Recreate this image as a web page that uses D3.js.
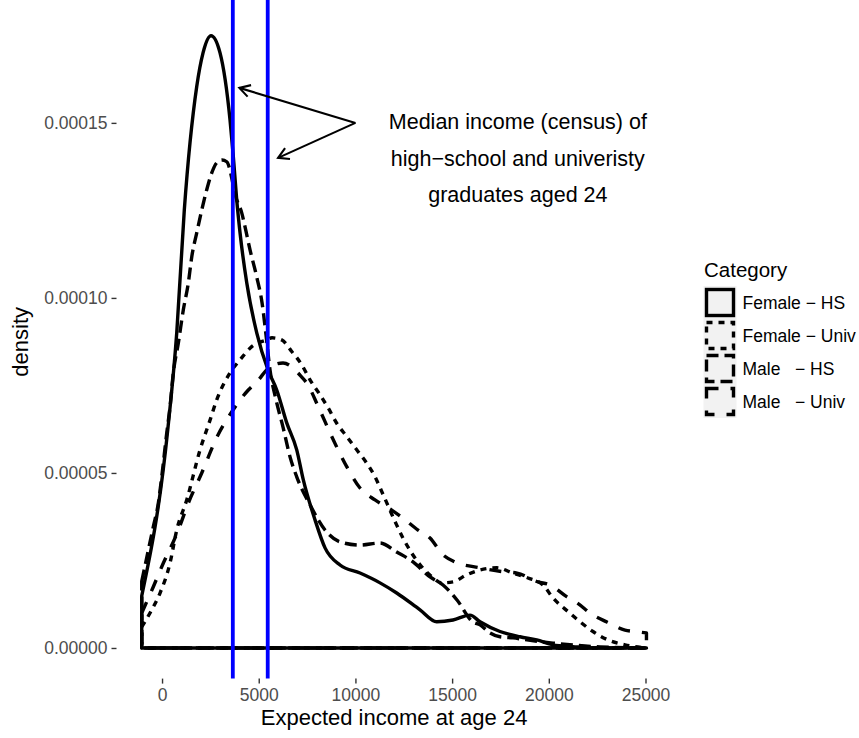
<!DOCTYPE html>
<html>
<head>
<meta charset="utf-8">
<script src="https://cdn.jsdelivr.net/npm/d3@7"></script>
<style>
  html, body { margin: 0; padding: 0; background: #ffffff; }
  svg { display: block; font-family: "Liberation Sans", Arial, Helvetica, sans-serif; }
</style>
</head>
<body>
<svg id="chart" width="859" height="738"></svg>
<script>
// ---------------- data ----------------
const categories = ["Female \u2212 HS", "Female \u2212 Univ", "Male   \u2212 HS", "Male   \u2212 Univ"];
const linetypes = ["solid", "22", "42", "44"];

const incomeTicks = [0, 5000, 10000, 15000, 20000, 25000];
const densityTicks = [0, 0.00005, 0.0001, 0.00015];
const densityTickLabels = ["0.00000", "0.00005", "0.00010", "0.00015"];

const incomeRange = [-1050, 25050];
const densityExtent = [0, 0.0001749];

const femaleHS_income = [-1050, 295, 760, 1150, 1794, 2120, 2534, 2999, 3516, 3671, 3862, 4033, 4380, 4897, 5481, 5931, 6448, 6965, 7306, 7911, 8428, 9204, 10238, 11272, 12135, 13340, 14204, 15046, 15925, 16442, 17477, 18511, 19374, 20217, 21251, 22500, 25050];
const femaleHS_density = [1.49e-5, 6.23e-5, 9.00e-5, 12.50e-5, 16.04e-5, 17.00e-5, 17.49e-5, 17.00e-5, 15.08e-5, 14.14e-5, 12.80e-5, 11.86e-5, 10.43e-5, 9.00e-5, 7.94e-5, 7.37e-5, 6.43e-5, 5.66e-5, 4.80e-5, 3.66e-5, 2.86e-5, 2.37e-5, 2.14e-5, 1.86e-5, 1.57e-5, 1.09e-5, 0.75e-5, 0.80e-5, 0.94e-5, 0.75e-5, 0.47e-5, 0.32e-5, 0.23e-5, 0.09e-5, 0.04e-5, 0, 0];

const femaleUniv_income = [-1050, -533, -103, 414, 760, 1277, 1965, 2482, 2828, 3516, 4033, 4638, 5414, 5688, 6189, 6706, 7223, 7652, 8170, 8600, 9033, 9550, 10067, 10584, 11013, 11360, 12135, 12461, 12911, 13428, 13945, 14462, 15046, 15755, 16442, 17306, 18149, 18924, 19700, 20217, 20993, 21613, 22285, 23061, 23940, 25050];
const femaleUniv_density = [0.60e-5, 1.09e-5, 1.57e-5, 2.43e-5, 3.37e-5, 4.23e-5, 5.66e-5, 6.51e-5, 7.09e-5, 7.86e-5, 8.23e-5, 8.61e-5, 8.80e-5, 8.86e-5, 8.80e-5, 8.47e-5, 8.09e-5, 7.66e-5, 7.23e-5, 6.85e-5, 6.42e-5, 6.04e-5, 5.66e-5, 5.28e-5, 4.89e-5, 4.47e-5, 3.51e-5, 3.14e-5, 2.71e-5, 2.32e-5, 2.04e-5, 1.86e-5, 1.89e-5, 2.09e-5, 2.23e-5, 2.29e-5, 2.14e-5, 2.00e-5, 1.80e-5, 1.43e-5, 1.04e-5, 0.75e-5, 0.47e-5, 0.23e-5, 0.09e-5, 0];

const maleHS_income = [-1050, -708, -450, -191, -16, 243, 414, 584, 843, 1101, 1360, 1536, 1794, 2053, 2311, 2570, 2828, 3102, 3345, 3862, 4121, 4292, 4550, 4897, 5171, 5377, 5584, 5894, 6256, 6618, 6965, 7652, 8428, 9204, 10238, 11272, 12135, 12978, 13857, 14529, 15253, 16080, 16442, 16960, 17477, 18149, 18872, 19545, 20217, 22647, 25050];
const maleHS_density = [1.90e-5, 2.80e-5, 3.47e-5, 4.14e-5, 4.89e-5, 6.14e-5, 6.89e-5, 7.86e-5, 8.71e-5, 9.66e-5, 10.43e-5, 11.17e-5, 11.86e-5, 12.51e-5, 13.09e-5, 13.57e-5, 13.86e-5, 13.94e-5, 13.89e-5, 12.80e-5, 12.43e-5, 12.03e-5, 11.37e-5, 10.60e-5, 9.86e-5, 8.94e-5, 7.94e-5, 7.09e-5, 6.31e-5, 5.46e-5, 4.89e-5, 4.09e-5, 3.37e-5, 3.03e-5, 2.94e-5, 3.00e-5, 2.74e-5, 2.46e-5, 2.03e-5, 1.80e-5, 1.37e-5, 0.74e-5, 0.66e-5, 0.43e-5, 0.32e-5, 0.29e-5, 0.23e-5, 0.18e-5, 0.14e-5, 0.03e-5, 0];

const maleUniv_income = [-1050, -450, -16, 843, 1360, 2053, 2860, 3671, 4462, 4897, 5584, 6256, 7223, 7482, 8082, 8775, 9550, 10238, 11013, 11877, 12461, 13237, 13857, 14529, 15150, 16442, 17632, 18356, 19441, 20062, 20941, 21458, 22285, 23009, 23940, 24612, 25050];
const maleUniv_density = [1.00e-5, 1.75e-5, 2.32e-5, 3.37e-5, 4.14e-5, 5.00e-5, 6.05e-5, 6.80e-5, 7.37e-5, 7.60e-5, 8.03e-5, 8.14e-5, 7.74e-5, 7.57e-5, 6.89e-5, 6.04e-5, 5.18e-5, 4.57e-5, 4.23e-5, 3.94e-5, 3.71e-5, 3.37e-5, 3.14e-5, 2.66e-5, 2.46e-5, 2.29e-5, 2.18e-5, 2.14e-5, 1.89e-5, 1.80e-5, 1.46e-5, 1.29e-5, 0.94e-5, 0.74e-5, 0.51e-5, 0.46e-5, 0.43e-5];

const medianIncome = [3660, 5465];

const annotationLines = ["Median income (census) of", "high\u2212school and univeristy", "graduates aged 24"];
const annotationPos = [18400, 0.00014];
const arrowFrom = [10000, 0.00015];
const arrowTo = [[4000, 0.00016], [6000, 0.00014]];

const legendTitle = "Category";
const xTitle = "Expected income at age 24";
const yTitle = "density";

// ---------------- layout ----------------
const svg = d3.select("#chart");
const panel = { left: 116.5, right: 671.7, top: 5.1, bottom: 678.6 };

// ggplot-style 5% expansion
const xSpan = incomeRange[1] - incomeRange[0];
const x = d3.scaleLinear()
  .domain([incomeRange[0] - 0.05 * xSpan, incomeRange[1] + 0.05 * xSpan])
  .range([panel.left, panel.right]);
const ySpan = densityExtent[1] - densityExtent[0];
const y = d3.scaleLinear()
  .domain([densityExtent[0] - 0.05 * ySpan, densityExtent[1] + 0.05 * ySpan])
  .range([panel.bottom, panel.top]);

const DASH_UNIT = 3;
const dashFor = (lt) => {
  if (lt === "solid") return null;
  return lt.split("").map(c => +c * DASH_UNIT).join(",");
};

const LW = 3.4;

// ---------------- density polygons ----------------
const seriesList = [
  { name: categories[0], lt: linetypes[0], xs: femaleHS_income, ys: femaleHS_density },
  { name: categories[1], lt: linetypes[1], xs: femaleUniv_income, ys: femaleUniv_density },
  { name: categories[2], lt: linetypes[2], xs: maleHS_income, ys: maleHS_density },
  { name: categories[3], lt: linetypes[3], xs: maleUniv_income, ys: maleUniv_density }
];

const line = d3.line()
  .x(d => x(d[0]))
  .y(d => y(d[1]))
  .curve(d3.curveMonotoneX);

const gCurves = svg.append("g");
seriesList.forEach(s => {
  const pts = s.xs.map((v, i) => [v, s.ys[i]]);
  const top = line(pts);
  const last = pts[pts.length - 1][0];
  const first = pts[0][0];
  const d = top + "L" + x(last) + "," + y(0) + "L" + x(first) + "," + y(0) + "Z";
  gCurves.append("path")
    .attr("d", d)
    .attr("fill", "none")
    .attr("stroke", "#000")
    .attr("stroke-width", LW)
    .attr("stroke-linejoin", "round")
    .attr("stroke-linecap", "butt")
    .attr("stroke-dasharray", dashFor(s.lt));
});

// ---------------- vertical median lines ----------------
svg.append("g").selectAll("line").data(medianIncome).join("line")
  .attr("x1", d => x(d)).attr("x2", d => x(d))
  .attr("y1", panel.top - 5).attr("y2", panel.bottom)
  .attr("stroke", "#0000FF")
  .attr("stroke-width", 3.8);

// ---------------- arrows ----------------
const gArrow = svg.append("g").attr("stroke", "#000").attr("stroke-width", 2.1).attr("fill", "none");
arrowTo.forEach(t => {
  const x0 = x(arrowFrom[0]), y0 = y(arrowFrom[1]);
  const x1 = x(t[0]), y1 = y(t[1]);
  gArrow.append("line").attr("x1", x0).attr("y1", y0).attr("x2", x1).attr("y2", y1);
  const ang = Math.atan2(y0 - y1, x0 - x1);
  const L = 12, a = Math.PI / 6;
  const p1 = [x1 + L * Math.cos(ang + a), y1 + L * Math.sin(ang + a)];
  const p2 = [x1 + L * Math.cos(ang - a), y1 + L * Math.sin(ang - a)];
  gArrow.append("path").attr("d", `M${p1[0]},${p1[1]}L${x1},${y1}L${p2[0]},${p2[1]}`);
});

// ---------------- annotation text ----------------
const annY = y(annotationPos[1]);
svg.append("g").selectAll("text").data(annotationLines).join("text")
  .attr("x", x(annotationPos[0]))
  .attr("y", (d, i) => annY + (i - 1) * 36.5 + 8)
  .attr("text-anchor", "middle")
  .attr("font-size", 21.5)
  .attr("fill", "#000")
  .text(d => d);

// ---------------- axes ----------------
const xAxis = d3.axisBottom(x).tickValues(incomeTicks).tickSize(5).tickPadding(4).tickFormat(d3.format("d"));
const gx = svg.append("g").attr("transform", `translate(0,${panel.bottom})`).call(xAxis);
gx.select(".domain").remove();
gx.selectAll(".tick line").attr("stroke", "#333333").attr("stroke-width", 1.4);
gx.selectAll(".tick text").attr("fill", "#4D4D4D").attr("font-size", 17.5)
  .attr("font-family", "Liberation Sans, Arial, sans-serif").attr("dy", "0.75em");

const yAxis = d3.axisLeft(y).tickValues(densityTicks).tickSize(5).tickPadding(4)
  .tickFormat((d, i) => densityTickLabels[i]);
const gy = svg.append("g").attr("transform", `translate(${panel.left},0)`).call(yAxis);
gy.select(".domain").remove();
gy.selectAll(".tick line").attr("stroke", "#333333").attr("stroke-width", 1.4);
gy.selectAll(".tick text").attr("fill", "#4D4D4D").attr("font-size", 17.5)
  .attr("font-family", "Liberation Sans, Arial, sans-serif");

// axis titles
svg.append("text")
  .attr("x", (panel.left + panel.right) / 2)
  .attr("y", 725)
  .attr("text-anchor", "middle")
  .attr("font-size", 22)
  .attr("fill", "#000")
  .text(xTitle);

svg.append("text")
  .attr("transform", `translate(28,${(panel.top + panel.bottom) / 2}) rotate(-90)`)
  .attr("text-anchor", "middle")
  .attr("font-size", 22)
  .attr("fill", "#000")
  .text(yTitle);

// ---------------- legend ----------------
const lg = svg.append("g");
lg.append("text").attr("x", 704).attr("y", 277).attr("font-size", 20.5).attr("fill", "#000").text(legendTitle);
const keySize = 33, keyTop = 286, keyLeft = 703.5;
categories.forEach((c, i) => {
  const ky = keyTop + i * keySize;
  lg.append("rect").attr("x", keyLeft).attr("y", ky).attr("width", keySize).attr("height", keySize)
    .attr("fill", "#F2F2F2").attr("stroke", "none");
  lg.append("rect").attr("x", keyLeft + 3).attr("y", ky + 3.5).attr("width", keySize - 6).attr("height", keySize - 7)
    .attr("fill", "none").attr("stroke", "#000").attr("stroke-width", LW)
    .attr("stroke-dasharray", dashFor(linetypes[i]));
  lg.append("text").attr("x", keyLeft + keySize + 6).attr("y", ky + keySize / 2 + 6)
    .attr("font-size", 17.5).attr("fill", "#000")
    .style("white-space", "pre")
    .text(c);
});
</script>
</body>
</html>
